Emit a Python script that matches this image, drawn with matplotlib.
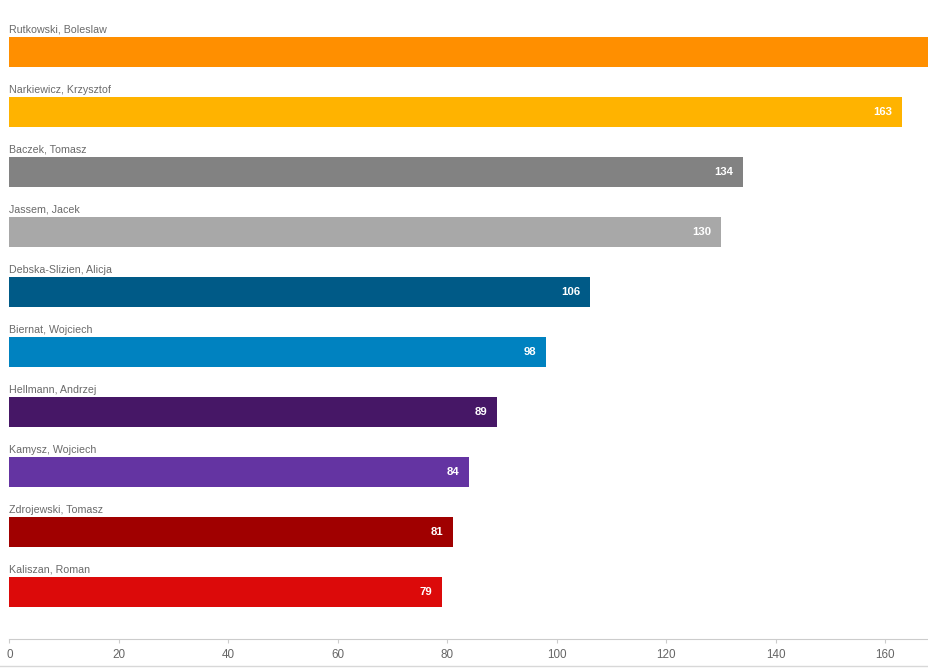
import matplotlib.pyplot as plt

names = ["Rutkowski, Boleslaw", "Narkiewicz, Krzysztof", "Baczek, Tomasz", "Jassem, Jacek",
         "Debska-Slizien, Alicja", "Biernat, Wojciech", "Hellmann, Andrzej", "Kamysz, Wojciech",
         "Zdrojewski, Tomasz", "Kaliszan, Roman"]
values = [190, 163, 134, 130, 106, 98, 89, 84, 81, 79]
colors = ["#FF8F00", "#FFB300", "#828282", "#A8A8A8", "#005A87", "#0082C0",
          "#461766", "#6434A2", "#A00000", "#DC0A0A"]
ticks = [0, 20, 40, 60, 80, 100, 120, 140, 160]

plt.rcParams['font.family'] = ['Liberation Sans', 'DejaVu Sans']

W, H = 929, 669
fig = plt.figure(figsize=(W / 100, H / 100), dpi=100)
ax = fig.add_axes([9.5 / W, (H - 639) / H, 1 - 9.5 / W, 639 / H])

y = list(range(len(names)))
ax.barh(y, values, height=0.5, color=colors)
ax.set_xlim(0, 168)
ax.set_ylim(9.783, -0.867)

for i, (n, v) in enumerate(zip(names, values)):
    ax.text(0, i - 0.37, n, fontsize=7.7, color="#6a6a6a", va="center", ha="left")
    if v < 168:
        ax.annotate(str(v), (v, i), xytext=(-7, 0), textcoords="offset points",
                    ha="right", va="center", color="white", fontsize=8.2, fontweight="bold")

ax.set_yticks([])
ax.set_xticks(ticks)
ax.tick_params(axis="x", colors="#cccccc", length=3, labelcolor="#666666", labelsize=8.4, pad=4)
for s in ["top", "right", "left"]:
    ax.spines[s].set_visible(False)
ax.spines["bottom"].set_color("#cccccc")

fig.add_artist(plt.Line2D([0, 1], [(H - 666) / H] * 2, color="#d8d8d8", lw=1))

fig.savefig("out.png", dpi=100)
